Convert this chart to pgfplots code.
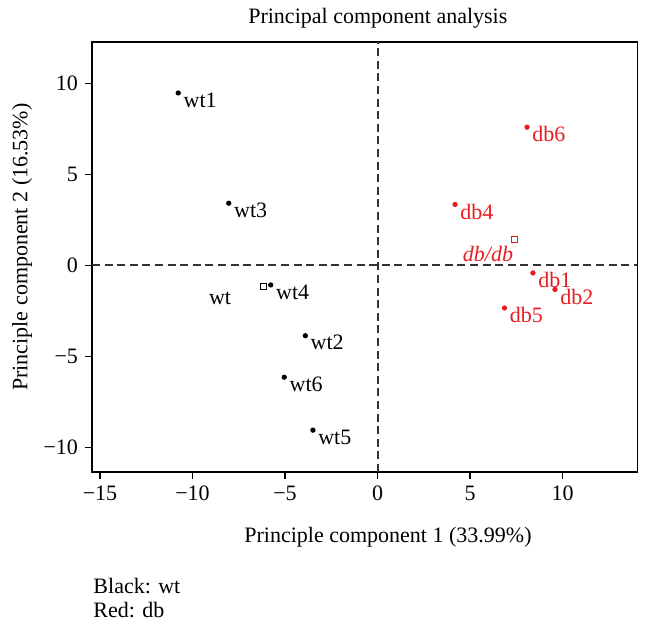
\documentclass[border=0pt]{standalone}
\usepackage{fontspec}
\setmainfont{Liberation Serif}
\usepackage{pgfplots}
\pgfplotsset{compat=1.18}
\definecolor{myred}{RGB}{232,28,32}
\begin{document}
\begin{tikzpicture}[font=\fontsize{11}{13}\selectfont]
\begin{axis}[
  scale only axis, width=272.75pt, height=215pt,
  xmin=-15.43, xmax=14.05, ymin=-11.35, ymax=12.28,
  xtick pos=bottom, ytick pos=left, tick align=outside,
  xtick={-15,-10,-5,0,5,10}, xticklabels={−15,−10,−5,0,5,10},
  ytick={-10,-5,0,5,10}, yticklabels={−10,−5,0,5,10},
  major tick length=3.5pt,
  tick style={black, line width=0.6pt},
  axis line style={black, line width=0.8pt},
  xlabel={Principle component 1 (33.99\%)},
  ylabel={Principle component 2 (16.53\%)},
  xlabel style={at={(axis description cs:0.5426,-0.151)}, anchor=center},
  ylabel style={at={(axis description cs:-0.128,0.523)}, anchor=center},
  clip=false,
]
\addplot[black!80, dash pattern=on 4pt off 2.3pt, line width=1pt] coordinates {(0,-11.35) (0,12.28)};
\addplot[black!80, dash pattern=on 4pt off 2.3pt, line width=1pt] coordinates {(-15.43,0) (14.05,0)};
\addplot[only marks, mark=*, mark size=1.1pt, black, point meta=explicit symbolic,
  nodes near coords,
  every node near coord/.append style={anchor=west, inner sep=0pt, xshift=2.5pt, yshift=-3.5pt, black}]
  table[meta=label] {
x y label
-10.77 9.48 wt1
-8.04 3.42 wt3
-5.77 -1.07 wt4
-3.90 -3.86 wt2
-5.04 -6.14 wt6
-3.49 -9.05 wt5
};
\addplot[only marks, mark=*, mark size=1.1pt, myred, point meta=explicit symbolic,
  nodes near coords,
  every node near coord/.append style={anchor=west, inner sep=0pt, xshift=2.5pt, yshift=-3.5pt, myred}]
  table[meta=label] {
x y label
8.08 7.60 db6
4.19 3.35 db4
8.40 -0.41 db1
9.59 -1.32 db2
6.86 -2.34 db5
};
\addplot[only marks, mark=square, mark size=1.5pt, line width=0.5pt, black] coordinates {(-6.17,-1.18)};
\addplot[only marks, mark=square, mark size=1.5pt, line width=0.5pt, myred] coordinates {(7.43,1.42)};
\node[black] at (axis cs:-8.51,-1.79) {wt};
\node[myred] at (axis cs:5.97,0.63) {\textit{db/db}};
\node[anchor=center, inner sep=0pt] at (axis description cs:0.524,1.056) {Principal component analysis};
\node[anchor=west, inner sep=0pt] at (axis description cs:0.002,-0.265) {Black: wt};
\node[anchor=west, inner sep=0pt] at (axis description cs:0.002,-0.321) {Red: db};
\end{axis}
\path ([shift={(-46pt,-77.5pt)}]current axis.south west) rectangle ([shift={(279pt,236pt)}]current axis.south west);
\end{tikzpicture}
\end{document}
